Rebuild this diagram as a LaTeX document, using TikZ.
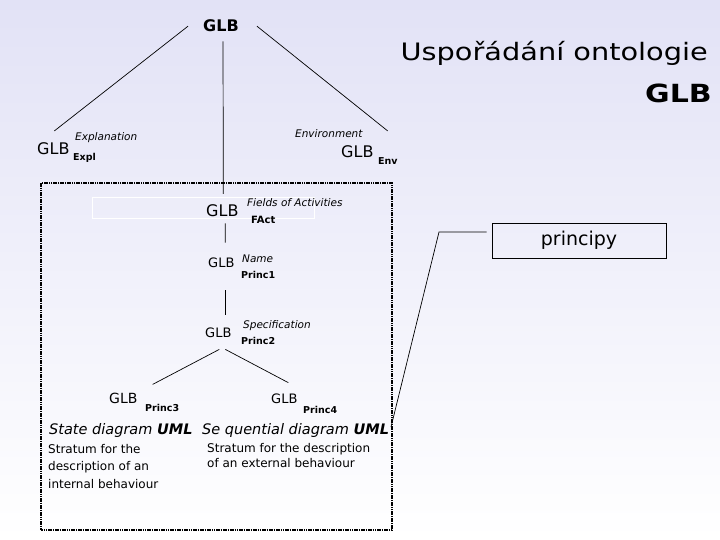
\documentclass[tikz,border=0pt]{standalone}
\usepackage{fontspec}
\setmainfont{DejaVu Sans}
\newfontfamily\widefont[FakeStretch=1.2]{DejaVu Sans}
\usepackage{tikz}

\definecolor{slidetop}{RGB}{226,226,246}

\begin{document}
\begin{tikzpicture}[
    x=1pt, y=-1pt,
    glb/.style={inner sep=0pt, anchor=base west, font=\fontsize{#1}{#1}\selectfont},
    sub/.style={inner sep=0pt, anchor=base west, font=\bfseries\fontsize{9.5}{11}\selectfont},
    role/.style={inner sep=0pt, anchor=base west, font=\itshape\fontsize{10.5}{12}\selectfont},
    uml/.style={inner sep=0pt, anchor=base west, font=\itshape\fontsize{14.5}{16}\selectfont},
    note/.style={inner sep=0pt, align=left, anchor=north west},
    link/.style={line width=0.7pt},
    frame/.style={line width=2pt, dash pattern=on 1.6pt off 0.7pt},
    tag/.style={rectangle, draw, line width=0.9pt, minimum width=174pt, minimum height=35pt, font=\fontsize{19}{22}\selectfont}
]
    \useasboundingbox (0,0) rectangle (720,540);
    \shade[top color=slidetop, bottom color=white] (0,0) rectangle (720,540);

    % title
    \node[inner sep=0pt, anchor=base east, font=\widefont\fontsize{24}{28}\selectfont] (title) at (708,61) {Uspořádání ontologie};
    \node[inner sep=0pt, anchor=base east, font=\widefont\bfseries\fontsize{25}{28}\selectfont] (titleglb) at (712,103) {GLB};

    % upper levels
    \node[inner sep=0pt, anchor=base, font=\bfseries\fontsize{16}{18}\selectfont] (top) at (221,32) {GLB};
    \node[glb=16] (expl) at (37,155) {GLB};
    \node[sub] (explsub) at (73,161) {Expl};
    \node[role] (explrole) at (75,141) {Explanation};
    \node[glb=16] (env) at (341,158) {GLB};
    \node[sub] (envsub) at (378,165) {Env};
    \node[role] (envrole) at (295,138) {Environment};

    % principles frame
    \draw[frame] (41,183) rectangle (392,530);
    \draw[white, line width=1pt] (92,198) rectangle (314,219);

    \node[glb=16] (fact) at (206,217) {GLB};
    \node[sub, font=\bfseries\fontsize{10}{11}\selectfont] (factsub) at (251,223) {FAct};
    \node[role] (factrole) at (247,207) {Fields of Activities};

    \node[glb=13] (princ1) at (208,267) {GLB};
    \node[sub] (princ1sub) at (241,278) {Princ1};
    \node[role] (princ1role) at (242,262) {Name};

    \node[glb=13] (princ2) at (205,337) {GLB};
    \node[sub] (princ2sub) at (241,344) {Princ2};
    \node[role] (princ2role) at (243,328) {Specification};

    \node[glb=14] (princ3) at (109,403) {GLB};
    \node[sub] (princ3sub) at (145,411) {Princ3};
    \node[glb=13] (princ4) at (271,403) {GLB};
    \node[sub] (princ4sub) at (303,413) {Princ4};

    \node[uml] (state) at (49,434) {State diagram \textbf{UML}};
    \node[uml] (seq) at (202,434) {Se quential diagram \textbf{UML}};
    \node[note, font=\fontsize{12}{17.5}\selectfont] (internal) at (48,444) {Stratum for the\\description of an\\internal behaviour};
    \node[note, font=\fontsize{12}{15}\selectfont] (external) at (207,443) {Stratum for the description\\of an external behaviour};

    % tree lines
    \draw[link] ([xshift=-15pt]top.west) -- ([shift={(1pt,12pt)}]expl.north);
    \draw[link] ([xshift=18pt]top.east) -- ([shift={(14pt,15pt)}]env.north east);
    \draw[link] ([shift={(2pt,-9pt)}]top.south) -- ([shift={(1pt,11pt)}]fact.north);
    \draw[link] ([shift={(3pt,-6pt)}]fact.south) -- ([shift={(4pt,14.5pt)}]princ1.north);
    \draw[link] ([shift={(4pt,-23pt)}]princ1.south) -- ([shift={(7pt,12.5pt)}]princ2.north);
    \draw[link] ([shift={(1pt,-12pt)}]princ2.south) -- ([shift={(15pt,8pt)}]princ3.north east);
    \draw[link] ([shift={(7pt,-12pt)}]princ2.south) -- ([shift={(4pt,10.5pt)}]princ4.north);

    % callout
    \node[tag] (principy) at (579,240.5) {principy};
    \coordinate (bend) at (439,232);
    \coordinate (tip) at (391,427);
    \draw[link] ([shift={(-5pt,8.5pt)}]principy.west) -- (bend) -- (tip);
\end{tikzpicture}
\end{document}
